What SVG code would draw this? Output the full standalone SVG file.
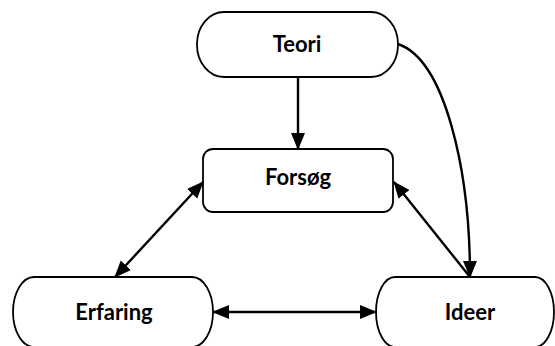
<svg xmlns="http://www.w3.org/2000/svg" width="555" height="346" viewBox="0 0 555 346">
<style>
.box{fill:#fff;stroke:#000;stroke-width:1.8}
.lbl{font-family:Lato,"Liberation Sans",sans-serif;font-weight:bold;font-size:22px;fill:#000;text-anchor:middle}
.con{fill:none;stroke:#000;stroke-width:2.4}
</style>
<defs>
<marker id="ah" markerUnits="userSpaceOnUse" markerWidth="18" markerHeight="16" refX="16" refY="7" orient="auto-start-reverse" viewBox="0 0 18 14">
<path d="M0,0 L17,7 L0,14 z" fill="#000"/>
</marker>
</defs>
<rect width="555" height="346" fill="#fff"/>
<g id="teori">
<rect class="box" x="197" y="12" width="201" height="65" rx="27" ry="32"/>
<text class="lbl" x="297" y="52">Teori</text>
</g>
<g id="forsog">
<rect class="box" x="203" y="149" width="190" height="63" rx="10" ry="10"/>
<text class="lbl" x="298" y="185">Forsøg</text>
</g>
<g id="erfaring">
<rect class="box" x="13" y="277" width="200" height="70" rx="21" ry="35"/>
<text class="lbl" x="114" y="320">Erfaring</text>
</g>
<g id="ideer">
<rect class="box" x="376" y="277" width="178" height="70" rx="19" ry="35"/>
<text class="lbl" x="470" y="320">Ideer</text>
</g>
<g id="connectors">
<line class="con" x1="298" y1="77" x2="298" y2="149" marker-end="url(#ah)"/>
<path class="con" d="M398,44 C445,60 470,170 470,277" marker-end="url(#ah)"/>
<line class="con" x1="470" y1="277" x2="394" y2="182" marker-end="url(#ah)"/>
<line class="con" x1="115" y1="277" x2="203" y2="182" marker-start="url(#ah)" marker-end="url(#ah)"/>
<line class="con" x1="213" y1="312" x2="376" y2="312" marker-start="url(#ah)" marker-end="url(#ah)"/>
</g>
</svg>
